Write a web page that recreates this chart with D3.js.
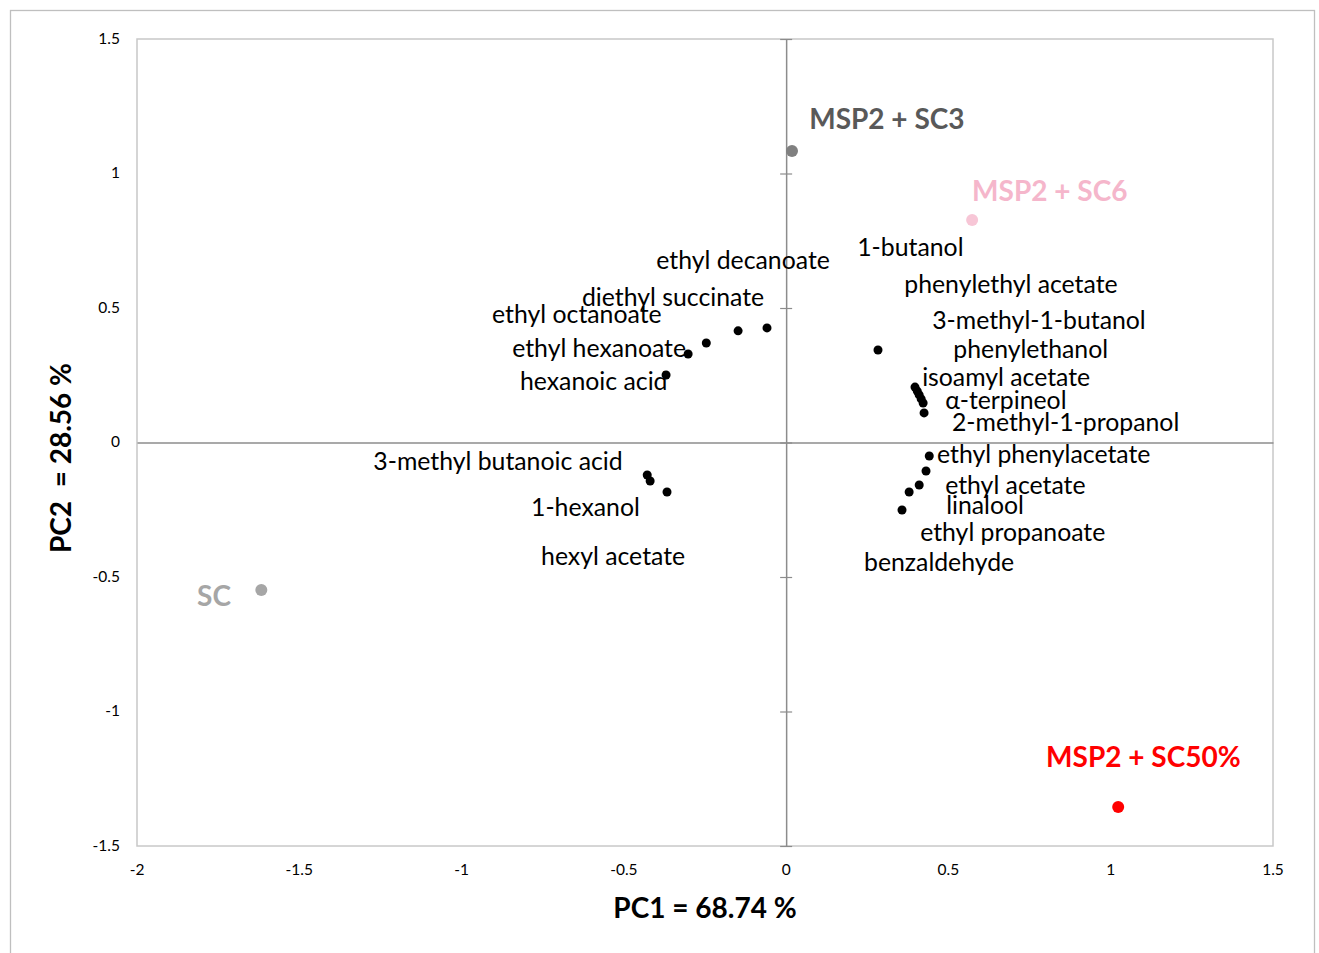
<!DOCTYPE html>
<html>
<head>
<meta charset="utf-8">
<script src="https://cdn.jsdelivr.net/npm/d3@7"></script>
<style>
  html, body { margin: 0; padding: 0; background: #fff; }
  svg { display: block; font-family: Lato, "Open Sans", sans-serif; }
</style>
</head>
<body>
<svg id="chart" width="1319" height="953"></svg>
<script>
// PCA loadings of volatile compounds (PC1, PC2)
const compounds = [
  "ethyl decanoate", "diethyl succinate", "ethyl octanoate", "ethyl hexanoate", "hexanoic acid",
  "3-methyl butanoic acid", "1-hexanol", "hexyl acetate",
  "1-butanol", "phenylethyl acetate", "3-methyl-1-butanol", "phenylethanol",
  "isoamyl acetate", "α-terpineol", "2-methyl-1-propanol",
  "ethyl phenylacetate", "ethyl acetate", "linalool", "ethyl propanoate", "benzaldehyde"
];
const compoundPC1 = [
  -0.059, -0.148, -0.246, -0.302, -0.370,
  -0.428, -0.419, -0.367,
  0.283, 0.397, 0.404, 0.410,
  0.416, 0.422, 0.425,
  0.441, 0.431, 0.410, 0.379, 0.357
];
const compoundPC2 = [
  0.426, 0.415, 0.370, 0.329, 0.251,
  -0.121, -0.143, -0.184,
  0.344, 0.206, 0.191, 0.177,
  0.162, 0.147, 0.110,
  -0.050, -0.106, -0.158, -0.184, -0.251
];
// label anchors (left edge, middle), in PC units
const labelPC1 = [
  -0.400, -0.629, -0.906, -0.844, -0.820,
  -1.272, -0.786, -0.755,
  0.219, 0.364, 0.450, 0.515,
  0.419, 0.490, 0.511,
  0.465, 0.490, 0.493, 0.413, 0.240
];
const labelPC2 = [
  0.675, 0.537, 0.474, 0.348, 0.225,
  -0.072, -0.243, -0.426,
  0.723, 0.586, 0.452, 0.344,
  0.240, 0.154, 0.072,
  -0.046, -0.162, -0.236, -0.336, -0.448
];

// PCA scores of the samples
const samples = ["MSP2 + SC3", "MSP2 + SC6", "SC", "MSP2 + SC50%"];
const samplePC1 = [0.018, 0.573, -1.617, 1.023];
const samplePC2 = [1.084, 0.827, -0.548, -1.355];
const sampleLabelPC1 = [0.071, 0.573, -1.815, 0.801];
const sampleLabelPC2 = [1.199, 0.931, -0.574, -1.173];
const sampleDotColor = ["#808080", "#f7c6d6", "#a6a6a6", "#ff0000"];
const sampleTextColor = ["#595959", "#f5b6cb", "#a6a6a6", "#ff0000"];

const xTicks = [-2, -1.5, -1, -0.5, 0, 0.5, 1, 1.5];
const yTicks = [-1.5, -1, -0.5, 0, 0.5, 1, 1.5];
const xTitle = "PC1 = 68.74 %";
const yTitle = "PC2  = 28.56 %";

const svg = d3.select("#chart");
const plot = { left: 137, right: 1273, top: 39, bottom: 846 };

const x = d3.scaleLinear().domain([-2, 1.5]).range([plot.left, plot.right]);
const y = d3.scaleLinear().domain([-1.5, 1.5]).range([plot.bottom, plot.top]);

// outer chart frame
svg.append("rect")
  .attr("x", 10.5).attr("y", 10.5).attr("width", 1304).attr("height", 960)
  .attr("fill", "none").attr("stroke", "#bfbfbf").attr("stroke-width", 1.3);

// plot area frame
svg.append("rect")
  .attr("x", plot.left).attr("y", plot.top)
  .attr("width", plot.right - plot.left).attr("height", plot.bottom - plot.top)
  .attr("fill", "none").attr("stroke", "#c8c8c8").attr("stroke-width", 1.5);

// axes through the origin
const fmt = d => String(d);
const xAxis = svg.append("g")
  .attr("transform", `translate(0,${y(0)})`)
  .call(d3.axisBottom(x).tickValues(xTicks).tickSize(0).tickFormat(""));
const yAxis = svg.append("g")
  .attr("transform", `translate(${x(0)},0)`)
  .call(d3.axisLeft(y).tickValues(yTicks).tickSize(0).tickFormat(""));
[xAxis, yAxis].forEach(g => {
  g.select(".domain").attr("stroke", "#8c8c8c").attr("stroke-width", 1.5);
});
// crossing tick marks on the vertical axis
yAxis.selectAll(".tick line")
  .attr("x1", -6).attr("x2", 6)
  .attr("stroke", "#8c8c8c").attr("stroke-width", 1.2);

// tick labels sit at the low end of the plot
svg.append("g").selectAll("text").data(xTicks).join("text")
  .attr("x", d => x(d)).attr("y", plot.bottom + 25)
  .attr("text-anchor", "middle").attr("dominant-baseline", "middle")
  .attr("font-size", 15.5).attr("fill", "#000")
  .text(fmt);
svg.append("g").selectAll("text").data(yTicks).join("text")
  .attr("x", plot.left - 17).attr("y", d => y(d) + 1)
  .attr("text-anchor", "end").attr("dominant-baseline", "middle")
  .attr("font-size", 15.5).attr("fill", "#000")
  .text(fmt);

// axis titles
svg.append("text")
  .attr("x", 705).attr("y", 911)
  .attr("text-anchor", "middle").attr("dominant-baseline", "middle")
  .attr("font-size", 28).attr("font-weight", "bold").attr("fill", "#000")
  .text(xTitle);
svg.append("text")
  .attr("transform", `translate(64,458) rotate(-90)`)
  .attr("text-anchor", "middle").attr("dominant-baseline", "middle")
  .attr("font-size", 28).attr("font-weight", "bold").attr("fill", "#000")
  .attr("xml:space", "preserve").style("white-space", "pre")
  .text(yTitle);

// compound loadings
svg.append("g").selectAll("circle").data(compounds).join("circle")
  .attr("cx", (d, i) => x(compoundPC1[i]))
  .attr("cy", (d, i) => y(compoundPC2[i]))
  .attr("r", 4.5).attr("fill", "#000");

svg.append("g").selectAll("text").data(compounds).join("text")
  .attr("x", (d, i) => x(labelPC1[i]))
  .attr("y", (d, i) => y(labelPC2[i]) + 2)
  .attr("dominant-baseline", "middle")
  .attr("font-size", 24.8).attr("fill", "#000")
  .text(d => d);

// sample scores
svg.append("g").selectAll("circle").data(samples).join("circle")
  .attr("cx", (d, i) => x(samplePC1[i]))
  .attr("cy", (d, i) => y(samplePC2[i]))
  .attr("r", 6).attr("fill", (d, i) => sampleDotColor[i]);

svg.append("g").selectAll("text").data(samples).join("text")
  .attr("x", (d, i) => x(sampleLabelPC1[i]))
  .attr("y", (d, i) => y(sampleLabelPC2[i]) + 2)
  .attr("dominant-baseline", "middle")
  .attr("font-size", 28).attr("font-weight", "bold")
  .attr("fill", (d, i) => sampleTextColor[i])
  .text(d => d);
</script>
</body>
</html>
